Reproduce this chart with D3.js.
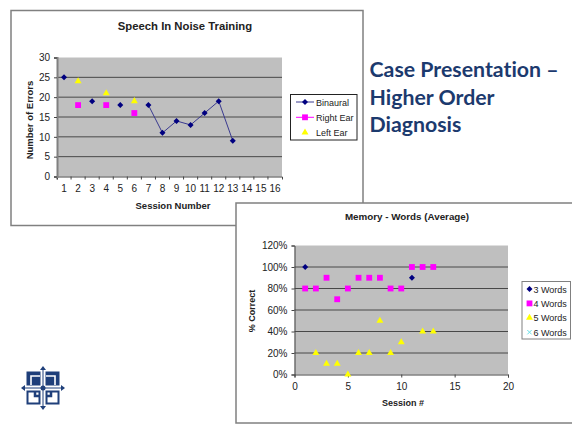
<!DOCTYPE html>
<html>
<head>
  <meta charset="utf-8">
  <title>Case Presentation</title>
  <script src="https://cdn.jsdelivr.net/npm/d3@7"></script>
  <style>
    html, body { margin: 0; padding: 0; background: #fff; }
    svg { display: block; }
    text { font-family: "Liberation Sans", Arial, sans-serif; fill: #222; }
  </style>
</head>
<body>
  <script>
    // Speech in noise data
    const sessions = d3.range(1, 17);
    const binaural = [25, null, 19, null, 18, null, 18, 11, 14, 13, 16, 19, 9, null, null, null];
    const rightEar = [null, 18, null, 18, null, 16, null, null, null, null, null, null, null, null, null, null];
    const leftEar = [null, 24, null, 21, null, 19, null, null, null, null, null, null, null, null, null, null];
    const errorTicks = [0, 5, 10, 15, 20, 25, 30];

    // Memory data, [session, percent]
    const words3 = [[1, 100], [11, 90]];
    const words4 = [[1, 80], [2, 80], [3, 90], [4, 70], [5, 80], [6, 90], [7, 90], [8, 90], [9, 80], [10, 80], [11, 100], [12, 100], [13, 100]];
    const words5 = [[2, 20], [3, 10], [4, 10], [5, 0], [6, 20], [7, 20], [8, 50], [9, 20], [10, 30], [12, 40], [13, 40]];
    const words6 = [];
    const percentTicks = [0, 20, 40, 60, 80, 100, 120];
    const sessionTicks = [0, 5, 10, 15, 20];

    const headline = ["Case Presentation –", "Higher Order", "Diagnosis"];

    const navy = "#000080";
    const magenta = "#ff00ff";
    const yellow = "#ffff00";
    const cyan = "#66e0e8";
    const titleBlue = "#1c3a6e";

    const svg = d3.select("body").append("svg")
      .attr("width", 572)
      .attr("height", 429);

    svg.append("rect").attr("width", 572).attr("height", 429).attr("fill", "#fff");

    // Marker helper
    function marker(g, type, x, y, color) {
      if (type === "x") {
        g.append("path")
          .attr("d", d3.symbol(d3.symbolX, 14)())
          .attr("transform", "translate(" + x + "," + y + ")")
          .attr("fill", "none")
          .attr("stroke", color)
          .attr("stroke-width", 1);
        return;
      }
      const shapes = {
        diamond: d3.symbol(d3.symbolSquare, 18),
        square: d3.symbol(d3.symbolSquare, 34),
        triangle: d3.symbol(d3.symbolTriangle, 21)
      };
      g.append("path")
        .attr("d", shapes[type]())
        .attr("transform", "translate(" + x + "," + y + ")" + (type === "diamond" ? " rotate(45)" : ""))
        .attr("fill", color);
    }

    function frame(x, y, w, h) {
      svg.append("rect")
        .attr("x", x).attr("y", y)
        .attr("width", w).attr("height", h)
        .attr("fill", "#fff")
        .attr("stroke", "#808080")
        .attr("stroke-width", 1.5);
    }

    function plotBack(g, left, right, top, bottom) {
      g.append("rect")
        .attr("x", left).attr("y", top)
        .attr("width", right - left).attr("height", bottom - top)
        .attr("fill", "#bfbfbf");
    }

    function styleAxis(a) {
      a.selectAll("text").attr("font-size", 10).attr("fill", "#222");
      a.selectAll("line,path").attr("stroke", "#444");
    }

    function gridLines(g, y, ticks, left, right) {
      g.selectAll(null)
        .data(ticks)
        .enter()
        .append("line")
        .attr("x1", left).attr("x2", right)
        .attr("y1", d => y(d)).attr("y2", d => y(d))
        .attr("stroke", "#484848")
        .attr("stroke-width", 1);
    }

    function label(g, str, x, y, size, rotate) {
      const t = g.append("text")
        .attr("text-anchor", "middle")
        .attr("font-size", size)
        .attr("font-weight", "bold")
        .text(str);
      if (rotate) t.attr("transform", "translate(" + x + "," + y + ") rotate(-90)");
      else t.attr("x", x).attr("y", y);
    }

    // Chart 1
    frame(11, 10.5, 352, 215);
    const g1 = svg.append("g");
    const left1 = 57, right1 = 282, top1 = 57.5, bottom1 = 176.5;
    plotBack(g1, left1, right1, top1, bottom1);

    const x1 = d3.scaleBand().domain(sessions).range([left1, right1]);
    const y1 = d3.scaleLinear().domain([0, 30]).range([bottom1, top1]);
    gridLines(g1, y1, errorTicks.slice(1, -1), left1, right1);

    const cx1 = d => x1(d) + x1.bandwidth() / 2;
    const line1 = d3.line()
      .defined(d => d.v !== null)
      .x(d => cx1(d.s))
      .y(d => y1(d.v));
    g1.append("path")
      .datum(sessions.map((s, i) => ({ s: s, v: binaural[i] })))
      .attr("d", line1)
      .attr("fill", "none")
      .attr("stroke", "#3a3a90")
      .attr("stroke-width", 1);

    sessions.forEach((s, i) => {
      if (binaural[i] !== null) marker(g1, "diamond", cx1(s), y1(binaural[i]), navy);
      if (rightEar[i] !== null) marker(g1, "square", cx1(s), y1(rightEar[i]), magenta);
      if (leftEar[i] !== null) marker(g1, "triangle", cx1(s), y1(leftEar[i]), yellow);
    });

    g1.append("g")
      .attr("transform", "translate(0," + bottom1 + ")")
      .call(d3.axisBottom(x1).tickSize(3).tickPadding(5))
      .call(styleAxis)
      .call(a => a.selectAll(".tick line").attr("transform", "translate(" + (-x1.bandwidth() / 2) + ",0)"));
    g1.append("g")
      .attr("transform", "translate(" + left1 + ",0)")
      .call(d3.axisLeft(y1).tickValues(errorTicks).tickSize(3).tickPadding(4))
      .call(styleAxis)
      .call(a => a.select(".domain").attr("stroke", "#808080").attr("stroke-width", 2));

    label(g1, "Speech In Noise Training", 185, 30, 11.3);
    label(g1, "Session Number", 173, 209, 9.5);
    label(g1, "Number of Errors", 33, 120, 9.5, true);

    // Legend 1
    g1.append("rect")
      .attr("x", 290.5).attr("y", 94.5).attr("width", 66.5).attr("height", 45.5)
      .attr("fill", "#fff").attr("stroke", "#222").attr("stroke-width", 1);
    [["Binaural", "diamond", navy, "#3a3a90"], ["Right Ear", "square", magenta, magenta], ["Left Ear", "triangle", yellow, null]]
      .forEach((d, i) => {
        const ly = 102 + i * 15.3;
        if (d[3]) g1.append("line").attr("x1", 296).attr("x2", 314).attr("y1", ly).attr("y2", ly).attr("stroke", d[3]);
        marker(g1, d[1], 305, ly, d[2]);
        g1.append("text").attr("x", 316).attr("y", ly + 3.5).attr("font-size", 9).text(d[0]);
      });

    // Headline
    svg.append("g").selectAll("text")
      .data(headline)
      .enter()
      .append("text")
      .attr("x", 369.5)
      .attr("y", (d, i) => [77, 105, 132][i])
      .attr("font-size", 21.3)
      .attr("font-weight", "bold")
      .style("font-family", "Lato, 'Open Sans', sans-serif")
      .style("font-variant-ligatures", "none")
      .style("fill", titleBlue)
      .text(d => d);

    // Chart 2
    frame(236, 203, 350, 220);
    const g2 = svg.append("g");
    const left2 = 294.5, right2 = 508, top2 = 245.5, bottom2 = 374.5;
    plotBack(g2, left2, right2, top2, bottom2);

    const x2 = d3.scaleLinear().domain([0, 20]).range([left2, right2]);
    const y2 = d3.scaleLinear().domain([0, 120]).range([bottom2, top2]);
    gridLines(g2, y2, percentTicks.slice(1, -1), left2, right2);

    g2.append("g")
      .attr("transform", "translate(0," + bottom2 + ")")
      .call(d3.axisBottom(x2).tickValues(sessionTicks).tickSize(3).tickPadding(5))
      .call(styleAxis);
    g2.append("g")
      .attr("transform", "translate(" + left2 + ",0)")
      .call(d3.axisLeft(y2).tickValues(percentTicks).tickFormat(d => d + "%").tickSize(3).tickPadding(4))
      .call(styleAxis);

    // Marks go over the axes here, the point at 0% sits on the axis line
    words3.forEach(d => marker(g2, "diamond", x2(d[0]), y2(d[1]), navy));
    words4.forEach(d => marker(g2, "square", x2(d[0]), y2(d[1]), magenta));
    words5.forEach(d => marker(g2, "triangle", x2(d[0]), y2(d[1]), yellow));
    words6.forEach(d => marker(g2, "x", x2(d[0]), y2(d[1]), cyan));

    label(g2, "Memory - Words (Average)", 407, 220, 9.8);
    label(g2, "Session #", 403, 406, 9);
    label(g2, "% Correct", 255, 311, 9, true);

    // Legend 2
    g2.append("rect")
      .attr("x", 522).attr("y", 281.5).attr("width", 48.5).attr("height", 57.5)
      .attr("fill", "#fff").attr("stroke", "#808080").attr("stroke-width", 1);
    [["3 Words", "diamond", navy], ["4 Words", "square", magenta], ["5 Words", "triangle", yellow], ["6 Words", "x", cyan]]
      .forEach((d, i) => {
        const ly = 289 + i * 14.4;
        marker(g2, d[1], 529.5, ly, d[2]);
        g2.append("text").attr("x", 533.5).attr("y", ly + 3.5).attr("font-size", 9).attr("fill", "#333").text(d[0]);
      });

    // Logo
    const logo = svg.append("g").attr("transform", "translate(43,388)");
    const logoBlue = "#1f3f7a";
    [[-1, -1], [1, -1], [-1, 1], [1, 1]].forEach(q => {
      const c = logo.append("g").attr("transform", "scale(" + q[0] + "," + q[1] + ")");
      const top = q[1] < 0;
      c.append("path")
        .attr("d", "M3.5,3.5H15.5V15.5H3.5Z")
        .attr("fill", top ? logoBlue : "#fff")
        .attr("stroke", logoBlue)
        .attr("stroke-width", 2);
      c.append("path")
        .attr("d", top ? "M12,3V12H3" : "M8,3V8H3")
        .attr("fill", "none")
        .attr("stroke", top ? "#fff" : logoBlue)
        .attr("stroke-width", top ? 1.6 : 2.5);
    });
    logo.append("path")
      .attr("d", "M0,-19V19M-19,0H19")
      .attr("stroke", "#fff")
      .attr("stroke-width", 4);
    logo.append("path")
      .attr("d", "M0,-19V19M-19,0H19")
      .attr("stroke", logoBlue)
      .attr("stroke-width", 1);
    [[0, -19, 0], [19, 0, 90], [0, 19, 180], [-19, 0, 270]].forEach(a => {
      logo.append("path")
        .attr("d", "M0,-3L3,1H-3Z")
        .attr("transform", "translate(" + a[0] + "," + a[1] + ") rotate(" + a[2] + ")")
        .attr("fill", logoBlue);
    });
    logo.append("circle").attr("r", 2.5).attr("fill", logoBlue);
  </script>
</body>
</html>
